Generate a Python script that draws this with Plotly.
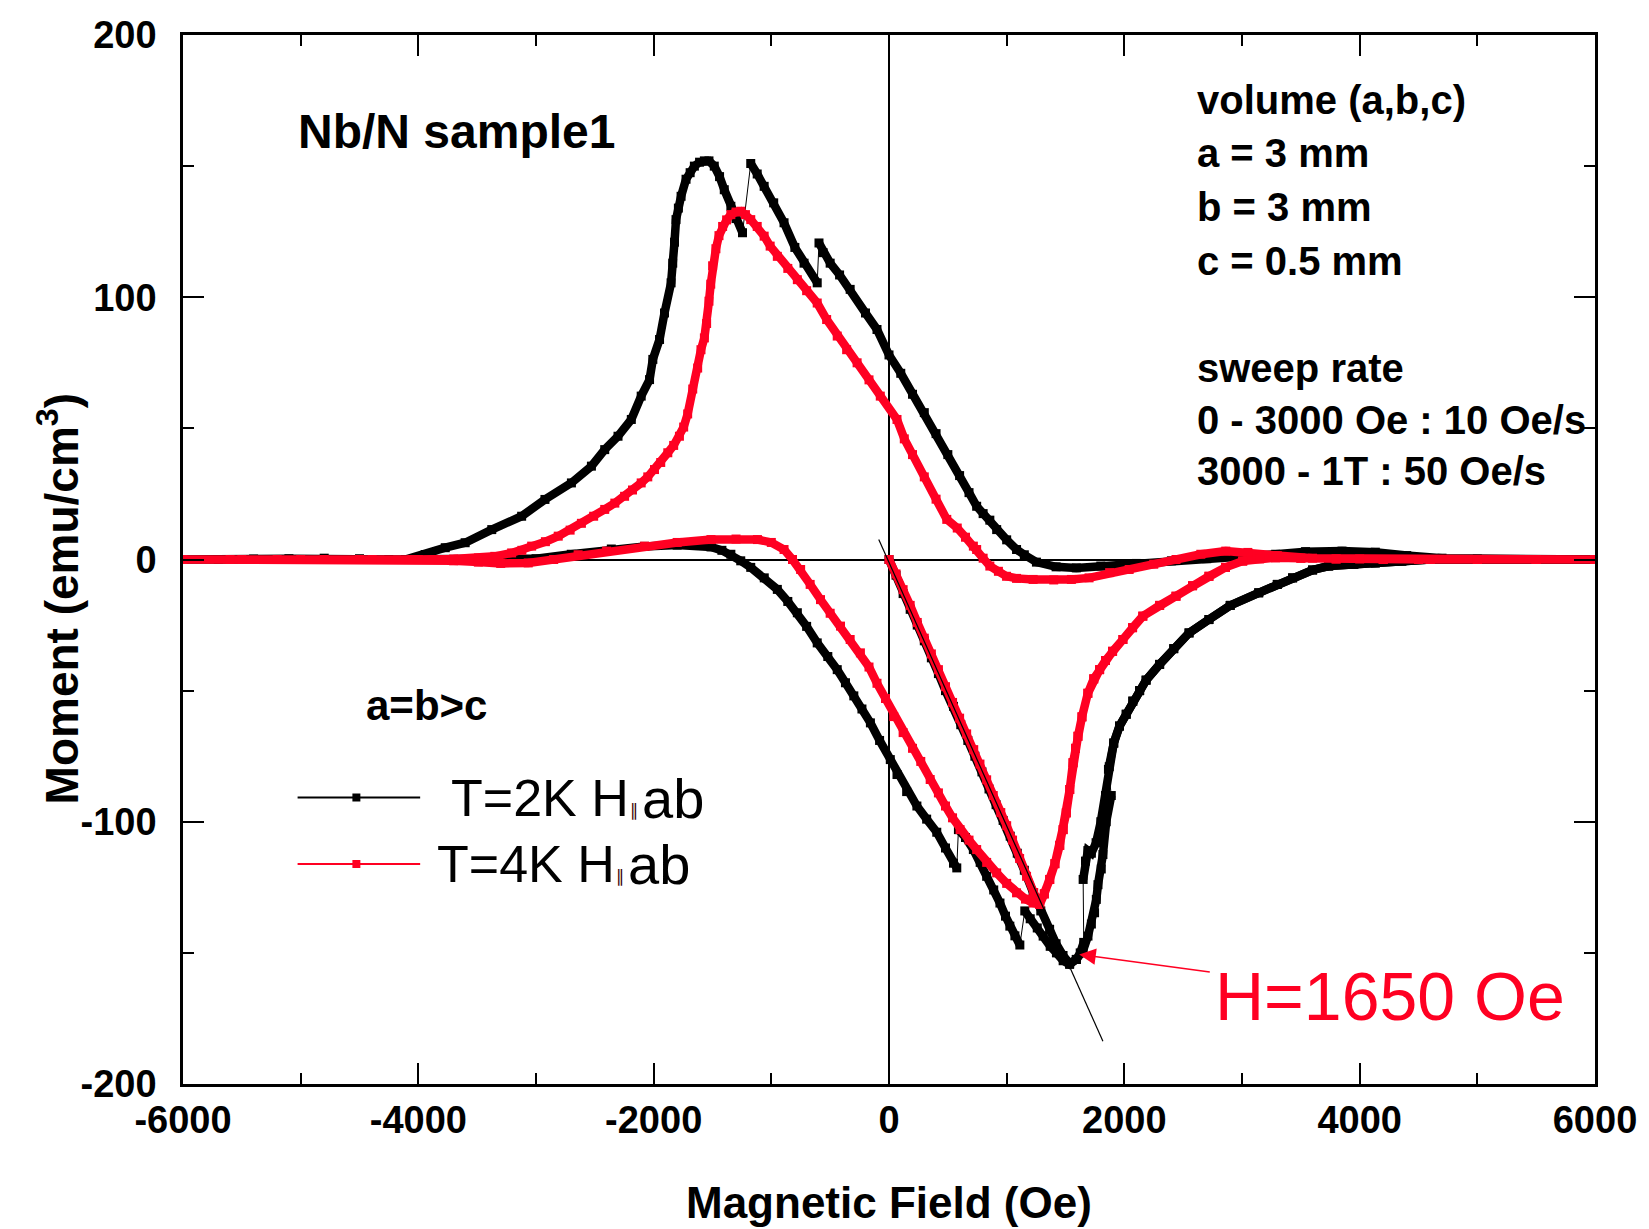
import plotly.graph_objects as go

# ---------------- data (H in Oe, M in emu/cm^3); None marks a flux jump ----------------
k2_virgin = [(0, 0), (60, -6), (120, -13), (180, -19), (240, -25), (300, -31), (360, -37.5),
             (420, -43.5), (480, -50), (548, -56), (610, -63), (670, -69), (730, -75), (790, -81),
             (850, -87.5), (910, -93.5), (970, -99.5), (1030, -105.5), (1090, -112), (1150, -118.5),
             (1225, -127), (1290, -134), (1365, -141), (1420, -146.5), (1479, -151), (1535, -154),
             (1592, -152.5), (1650, -149), (1691, -143.6), (1720, -139), (1747, -134.7), (1762, -129.6),
             (1776, -124), (1804, -118), (1818, -112.5), (1846, -100), (1889, -90), None,
             (1865, -80), (1910, -70), (1959, -63.5), (2016, -59), (2072, -54), (2130, -50), (2185, -46),
             (2300, -40), (2420, -34), (2550, -28), (2719, -22.9), (2900, -17.5), (3142, -12.7),
             (3300, -9.5), (3430, -7), (3600, -4), (3737, -2.5), (3950, -1.8), (4133, -1.3),
             (4358, -0.6), (4600, 0), (5000, 0), (5500, 0), (6000, 0)]

k2_down = [(6000, 0), (5500, 0), (5000, 0.2), (4700, 0.5), (4400, 1.5), (4133, 2.8), (3850, 3.2),
           (3540, 3), (3286, 2), (3000, 1), (2700, 0.3), (2400, -0.5), (2100, -1.5), (1800, -2.5),
           (1592, -3.2), (1420, -2.8), (1253, -1), (1150, 1.8), (1084, 3.8), (1000, 7.5), (915, 11.4),
           (857, 15), (800, 17.5), (745, 20.3), (680, 25.5), (600, 32), (500, 40), (400, 48), (300, 56),
           (200, 63), (100, 71), (0, 78), (-102, 87.7), (-200, 94), (-330, 103), (-420, 108.5),
           (-500, 113), (-560, 117), (-595, 120.7), None,
           (-610, 105.5), (-722, 113), (-800, 119), (-892, 128.4), (-980, 136), (-1061, 142.3),
           (-1120, 147), (-1175, 151), None,
           (-1245, 124.6), (-1300, 130), (-1344, 134.7), (-1400, 141), (-1440, 146), (-1485, 150),
           (-1530, 152), (-1569, 152), (-1610, 151.5), (-1654, 150), (-1690, 147.5), (-1725, 145),
           (-1767, 138.5), (-1790, 134), (-1810, 129.6), (-1823, 121), (-1838, 113), (-1852, 105.5),
           (-1908, 94), (-1950, 83.9), (-2007, 76.3), (-2035, 68.6), (-2106, 62.3), (-2190, 53.4),
           (-2303, 47), (-2416, 41.9), (-2529, 35.6), (-2699, 29.2), (-2924, 22.9), (-3122, 16.5),
           (-3376, 11.4), (-3602, 6.4), (-3771, 4.5), (-3941, 1.9), (-4110, 0), (-4251, 0),
           (-4500, 0.3), (-4800, 0.5), (-5100, 0.3), (-5400, 0.2), (-5700, 0), (-6000, 0)]

k2_up = [(-6000, 0), (-5500, 0), (-5000, 0), (-4500, 0), (-4000, 0), (-3500, -0.5), (-3000, 0.3),
         (-2700, 2), (-2360, 4), (-2077, 5), (-1800, 5.5), (-1513, 4.8), (-1420, 3.5), (-1344, 2),
         (-1260, -0.5), (-1175, -3), (-1060, -7), (-949, -11.4), (-860, -16), (-779, -20.3),
         (-700, -25.5), (-610, -31.8), (-520, -37), (-440, -42), (-370, -47), (-299, -52),
         (-230, -57), (-158, -62.3), (-80, -69), (11, -76.3), (68, -82), (150, -88.5), (237, -94),
         (320, -99), (406, -104), (480, -110), (548, -115.8), (576, -117.6), None,
         (590, -103), (650, -106), (717, -110.6), (775, -115.5), (830, -120.8), (890, -126),
         (943, -131), (990, -136), (1027, -139.8), (1070, -143.5), (1112, -147), None,
         (1154, -134), (1200, -137), (1260, -140.5), (1310, -143.6), (1370, -147.5), (1423, -150),
         (1480, -153), (1535, -154.4), (1592, -152.5), (1625, -150), (1655, -146), None,
         (1650, -122), (1670, -115), (1690, -111), (1720, -112), (1760, -108), (1800, -100),
         (1840, -90), (1872, -79), (1910, -70), (1959, -63.5), (2016, -59), (2072, -54), (2130, -50),
         (2185, -46), (2300, -40), (2420, -34), (2550, -28), (2719, -22.9), (2900, -17.5),
         (3142, -12.7), (3300, -9.5), (3430, -7), (3600, -4), (3737, -2.5), (3950, -1.8),
         (4133, -1.3), (4358, -0.6), (4600, 0), (5000, 0), (5500, 0), (6000, 0)]

k4_virgin = [(0, 0), (60, -5.5), (120, -11.5), (180, -17.5), (240, -24), (300, -30), (360, -36),
             (420, -42), (480, -48.5), (540, -54.5), (600, -60.5), (660, -66.5), (720, -72.5),
             (773, -78), (830, -84), (886, -90), (950, -96.5), (1000, -101.5), (1050, -107),
             (1110, -114), (1169, -120.8), (1230, -127), (1281, -131.5)]

k4_rise = [(1281, -131.5), (1320, -127.5), (1366, -122), (1410, -116), (1451, -109), (1480, -103),
           (1507, -96.6), (1536, -87.7), (1564, -77.5), (1585, -72), (1606, -67.4), (1640, -60),
           (1690, -51), (1740, -45.5), (1790, -42), (1840, -38.5), (1900, -35), (1988, -30.5),
           (2070, -26), (2157, -21.6), (2300, -17.5), (2439, -14), (2580, -10), (2719, -6.4),
           (2860, -3), (3006, -0.6), (3150, 0.3), (3286, 0.7), (3500, 0.5), (3800, 0.2), (4200, 0),
           (4600, 0), (5000, 0), (5500, 0), (6000, 0)]

k4_down = [(6000, 0), (5500, 0), (5000, 0), (4500, 0), (4000, 0.2), (3600, 0.5), (3300, 1.5),
           (3050, 2.7), (2862, 3.2), (2650, 2), (2439, 0), (2250, -1.8), (2041, -3.8), (1875, -5),
           (1700, -7), (1550, -7.6), (1400, -7.8), (1225, -7.6), (1084, -7.2), (999, -6.4),
           (930, -4.5), (857, -2.5), (800, 0.5), (745, 3.8), (717, 5.1), (650, 8.5), (580, 12),
           (491, 15.3), (400, 23), (300, 31.5), (200, 40), (130, 46), (68, 53.4), (-74, 62.3),
           (-170, 68.5), (-271, 75), (-360, 80), (-440, 85.2), (-530, 91.5), (-610, 97.8),
           (-700, 102.5), (-779, 106.7), (-860, 111), (-949, 115.6), (-1010, 119.5), (-1061, 123.3),
           (-1120, 127), (-1175, 129.6), (-1220, 131.5), (-1259, 132.8), (-1300, 132.5),
           (-1344, 131.5), (-1380, 129.5), (-1414, 127), (-1445, 123.5), (-1471, 118.5),
           (-1499, 112), (-1515, 105), (-1530, 98.5), (-1550, 90), (-1569, 84.5), (-1598, 80),
           (-1626, 73), (-1668, 65), (-1711, 55.5), (-1745, 50.5), (-1781, 47), (-1830, 43.5),
           (-1880, 40.7), (-1940, 37), (-1993, 34.3), (-2050, 31.5), (-2106, 29.2), (-2180, 26.5),
           (-2247, 24.1), (-2330, 21.5), (-2416, 19.1), (-2510, 16.5), (-2614, 13.8), (-2710, 11.2),
           (-2811, 8.9), (-2920, 6.8), (-3037, 5.1), (-3120, 3.5), (-3207, 2.5), (-3350, 1.2),
           (-3489, 0.6), (-3700, 0.2), (-4054, 0), (-4392, 0), (-4800, 0), (-5200, 0), (-5600, 0),
           (-6000, 0)]

k4_up = [(-6000, 0), (-5500, 0), (-5000, 0), (-4500, 0), (-4000, 0), (-3700, -0.5), (-3490, -1),
         (-3300, -1.5), (-3066, -1.3), (-2850, 0), (-2642, 1.8), (-2400, 3.2), (-2077, 5.1),
         (-1800, 6.5), (-1513, 7.6), (-1300, 7.8), (-1118, 7.6), (-1000, 6.5), (-892, 3.8),
         (-820, 0), (-751, -3.8), (-670, -9.5), (-582, -15.3), (-500, -20.5), (-412, -25.4),
         (-330, -30.5), (-243, -35.6), (-170, -41), (-102, -47.2), (-30, -53), (40, -59.9),
         (120, -66), (200, -72), (270, -77), (350, -83.9), (420, -89), (480, -94), (540, -98.5),
         (604, -103), (680, -107), (745, -110.6), (830, -115.5), (915, -119.5), (1000, -123.5),
         (1084, -127.1), (1160, -129.5), (1225, -131)]

# Meissner-slope guide line
fit_H = [-87, 1818]
fit_M = [7.6, -183.7]

# arrow: tip at the T=2K minimum; label centre (data coords)
arrow_tip = (1617, -150.6)
label_pos = (4260, -166.6)

x_ticks = [-6000, -4000, -2000, 0, 2000, 4000, 6000]
y_ticks = [-200, -100, 0, 100, 200]

BLACK = "#000000"
RED = "#ff0022"
FONT = "Liberation Sans"

k2_path = k2_virgin + k2_down + k2_up
k4_path = k4_virgin + k4_rise[1:] + k4_down + k4_up + k4_rise


def xs(path, gaps=True):
    return [p[0] if p else None for p in path if gaps or p]


def ys(path, gaps=True):
    return [p[1] if p else None for p in path if gaps or p]


fig = go.Figure()
for path, col in [(k2_path, BLACK), (k4_path, RED)]:
    fig.add_trace(go.Scatter(x=xs(path, False), y=ys(path, False), mode="lines",
                             line=dict(color=col, width=1), hoverinfo="skip", showlegend=False))
    fig.add_trace(go.Scatter(x=xs(path), y=ys(path), mode="lines+markers",
                             line=dict(color=col, width=8.5),
                             marker=dict(symbol="square", size=9, color=col),
                             connectgaps=False, showlegend=False))

fig.add_trace(go.Scatter(x=fit_H, y=fit_M, mode="lines", line=dict(color=BLACK, width=1.2),
                         showlegend=False))

axis_common = dict(showline=True, linecolor=BLACK, linewidth=2.5, mirror="allticks",
                   ticks="inside", ticklen=21, tickwidth=2, tickcolor=BLACK,
                   showgrid=False, zeroline=True, zerolinecolor=BLACK, zerolinewidth=1.5,
                   tickfont=dict(family=FONT, size=38, color=BLACK, weight="bold"))

fig.update_xaxes(range=[-6000, 6000], tickvals=x_ticks, ticktext=[str(v) for v in x_ticks],
                 minor=dict(ticks="inside", dtick=1000, ticklen=11, tickwidth=2, tickcolor=BLACK),
                 ticklabelstandoff=1, **axis_common)
fig.update_yaxes(range=[-200, 200], tickvals=y_ticks, ticktext=[str(v) for v in y_ticks],
                 minor=dict(ticks="inside", dtick=50, ticklen=11, tickwidth=2, tickcolor=BLACK),
                 ticklabelstandoff=16, **axis_common)

L, R, T, B = 183, 49, 35, 145
W, H = 1649, 1229
PW, PH = W - L - R, H - T - B


def px(xp):
    return (xp - L) / PW


def py(yp):
    return (H - B - yp) / PH


annos = []
bold = dict(family=FONT, color=BLACK, weight="bold")
plain_leg = dict(family=FONT, size=52, color=BLACK)
plain_ab = dict(family=FONT, size=56, color=BLACK)
annos.append(dict(text="Nb/N sample1", x=px(296), y=py(131), xanchor="left", yanchor="middle",
                  font=dict(size=48, **bold)))
annos.append(dict(text="a=b>c", x=px(365), y=py(705), xanchor="left", yanchor="middle",
                  font=dict(size=42, **bold)))
info_lines = [("volume (a,b,c)", 100), ("a = 3 mm", 153), ("b = 3 mm", 207), ("c = 0.5 mm", 261),
              ("sweep rate", 368), ("0 - 3000 Oe : 10 Oe/s", 420), ("3000 - 1T : 50 Oe/s", 471)]
for t, yy in info_lines:
    annos.append(dict(text=t, x=px(1199), y=py(yy), xanchor="left", yanchor="middle",
                      font=dict(size=40, **bold)))
# legend labels: "T=xK H", small "∥", "ab"
for label, x_start, x_par, x_ab, yy in [("T=2K H", 450, 630, 642, 798), ("T=4K H", 436, 616, 628, 864)]:
    annos.append(dict(text=label, x=px(x_start), y=py(yy), xanchor="left", yanchor="middle",
                      font=plain_leg))
    annos.append(dict(text="∥", x=px(x_par), y=py(yy + 12), xanchor="left", yanchor="middle",
                      font=dict(family="DejaVu Sans", size=17, color="#3a0008")))
    annos.append(dict(text="ab", x=px(x_ab), y=py(yy), xanchor="left", yanchor="middle",
                      font=plain_ab))
annos.append(dict(text="Magnetic Field (Oe)", x=0.5, y=py(1202), xanchor="center", yanchor="middle",
                  font=dict(size=44, **bold)))
annos.append(dict(text="Moment (emu/cm<sup>3</sup>)", x=px(58), y=py(598), textangle=-90,
                  xanchor="center", yanchor="middle", font=dict(size=46, **bold)))
for a in annos:
    a.update(xref="paper", yref="paper", showarrow=False)

annos.append(dict(text="H=1650 Oe", x=arrow_tip[0], y=arrow_tip[1],
                  ax=label_pos[0], ay=label_pos[1], xref="x", yref="y", axref="x", ayref="y",
                  showarrow=True, arrowhead=2, arrowsize=2.2, arrowwidth=1.5, arrowcolor=RED,
                  standoff=0, startstandoff=4,
                  font=dict(family=FONT, size=68, color=RED)))

shapes = []
for yy, col in [(797.5, BLACK), (864, RED)]:
    shapes.append(dict(type="line", xref="paper", yref="paper", x0=px(298), x1=px(421),
                       y0=py(yy), y1=py(yy), line=dict(color=col, width=2)))
    shapes.append(dict(type="rect", xref="paper", yref="paper", x0=px(353), x1=px(361),
                       y0=py(yy + 4), y1=py(yy - 4), line=dict(width=0), fillcolor=col))

fig.update_layout(width=W, height=H, margin=dict(l=L, r=R, t=T, b=B, pad=0),
                  plot_bgcolor="white", paper_bgcolor="white", annotations=annos, shapes=shapes,
                  showlegend=False)

fig.write_html("out.html")
